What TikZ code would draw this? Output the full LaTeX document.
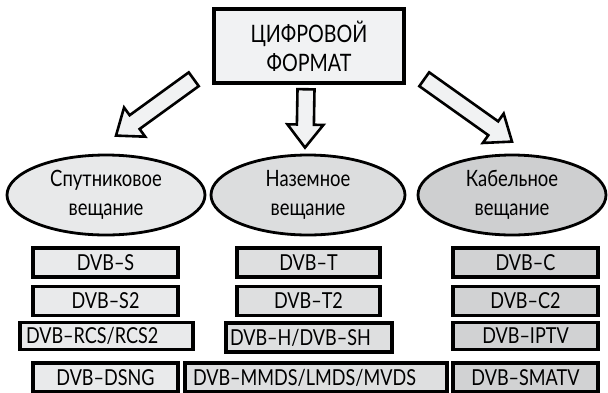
\documentclass[tikz,border=0pt]{standalone}
\usepackage{fontspec}
\setmainfont{Lato}[FakeStretch=0.82]
\usetikzlibrary{calc,shapes.geometric}

\definecolor{topfill}{HTML}{F1F2F3}
\definecolor{satfill}{HTML}{E8E9EA}
\definecolor{terfill}{HTML}{DCDDDE}
\definecolor{cabfill}{HTML}{CECFD0}
\definecolor{sboxfill}{HTML}{E9EAEB}
\definecolor{tboxfill}{HTML}{DEDFE0}
\definecolor{cboxfill}{HTML}{D1D2D3}

% hollow block arrow from #1 to #2
\newcommand{\hollowarrow}[2]{%
  \coordinate (#1neck) at ($(#2)!23pt!(#1)$);
  \draw[arrowline]
    ($(#1)!8.5pt!90:(#2)$) -- ($(#1neck)!8.5pt!90:(#2)$)
    -- ($(#1neck)!18pt!90:(#2)$) -- (#2)
    -- ($(#1neck)!18pt!-90:(#2)$) -- ($(#1neck)!8.5pt!-90:(#2)$)
    -- ($(#1)!8.5pt!-90:(#2)$) -- cycle;
}

\begin{document}
\begin{tikzpicture}[x=1pt,y=-1pt,
    topbox/.style={draw, line width=4.5pt, fill=topfill, minimum width=190pt,
      minimum height=74pt, align=center, font=\fontsize{24}{29}\selectfont},
    bcast/.style={ellipse, draw, line width=2.8pt, inner sep=0pt, minimum height=80pt,
      align=center, font=\fontsize{22.5}{29}\selectfont},
    fmtbox/.style={draw, line width=3.6pt, inner sep=0pt, minimum height=29pt,
      font=\fontsize{22}{24}\selectfont},
    arrowline/.style={draw, line width=2.6pt, fill=topfill, line join=miter}]
  \useasboundingbox (0,0) rectangle (608,392);

  \node[topbox] (fmt) at (309,46) {ЦИФРОВОЙ\\ФОРМАТ};

  \node[bcast, fill=satfill, minimum width=198pt] (sat) at (106,195) {Спутниковое\\вещание};
  \node[bcast, fill=terfill, minimum width=194pt] (ter) at (308,195) {Наземное\\вещание};
  \node[bcast, fill=cabfill, minimum width=188pt] (cab) at (512,195) {Кабельное\\вещание};

  % arrow ends
  \coordinate (ltail) at ([xshift=-18pt,yshift=6pt]fmt.south west);
  \coordinate (ltip) at ([xshift=10pt,yshift=18pt]sat.north);
  \coordinate (mtail) at ([xshift=-3pt,yshift=-4pt]fmt.south);
  \coordinate (mtip) at ([xshift=-3pt,yshift=6pt]ter.north);
  \coordinate (rtail) at ([xshift=18pt,yshift=6pt]fmt.south east);
  \coordinate (rtip) at ([yshift=12pt]cab.north);
  \hollowarrow{ltail}{ltip}
  \hollowarrow{mtail}{mtip}
  \hollowarrow{rtail}{rtip}

  % satellite
  \node[fmtbox, fill=sboxfill, minimum width=145pt] (s1) at (105.5,262.5) {DVB--S};
  \node[fmtbox, fill=sboxfill, minimum width=145pt] (s2) at (105.5,301) {DVB--S2};
  \node[fmtbox, fill=sboxfill, minimum width=173pt, minimum height=27pt,
    text width=161pt, align=left] (s3) at (106.5,336) {DVB--RCS/RCS2};
  \node[fmtbox, fill=sboxfill, minimum width=145pt] (s4) at (105.5,377.5) {DVB--DSNG};

  % terrestrial
  \node[fmtbox, fill=tboxfill, minimum width=143pt] (t1) at (308.5,262.5) {DVB--T};
  \node[fmtbox, fill=tboxfill, minimum width=143pt] (t2) at (308.5,301) {DVB--T2};
  \node[fmtbox, fill=tboxfill, minimum width=166pt,
    text width=158pt, align=left] (t3) at (309,337.5) {DVB--H/DVB--SH};
  \node[fmtbox, fill=tboxfill, minimum width=262pt,
    text width=246pt, align=left] (t4) at (316,377.5) {DVB--MMDS/LMDS/MVDS};

  % cable
  \node[fmtbox, fill=cboxfill, minimum width=145pt] (c1) at (525.5,262.5) {DVB--C};
  \node[fmtbox, fill=cboxfill, minimum width=145pt] (c2) at (525.5,301) {DVB--C2};
  \node[fmtbox, fill=cboxfill, minimum width=145pt, minimum height=27pt] (c3) at (525.5,336) {DVB--IPTV};
  \node[fmtbox, fill=cboxfill, minimum width=145pt] (c4) at (525.5,377.5) {DVB--SMATV};
\end{tikzpicture}
\end{document}
